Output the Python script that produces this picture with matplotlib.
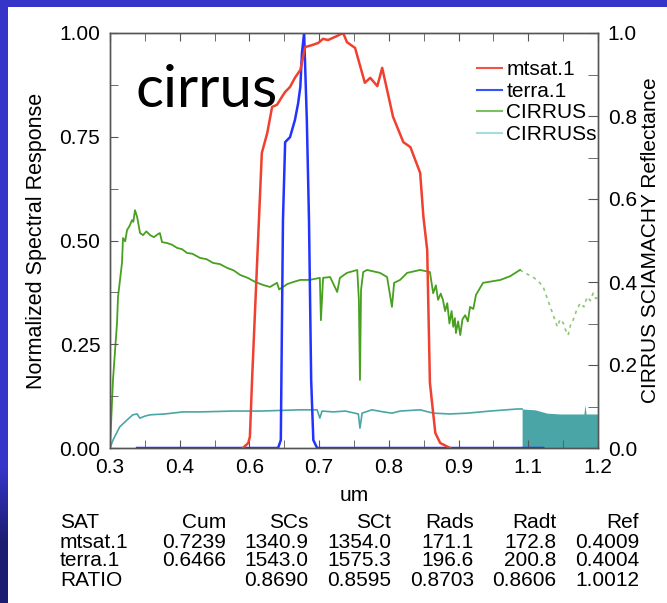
import numpy as np
import matplotlib
matplotlib.use("Agg")
import matplotlib.pyplot as plt
from matplotlib.patches import Rectangle
from matplotlib.lines import Line2D
from matplotlib.ticker import FuncFormatter

# mtsat.1 spectral response (left axis)
mtsat_x = [0.545, 0.555, 0.558, 0.562, 0.580, 0.590, 0.599, 0.608, 0.617, 0.623, 0.632,
           0.641, 0.651, 0.660, 0.673, 0.684, 0.693, 0.702, 0.719, 0.730, 0.737, 0.752,
           0.770, 0.780, 0.793, 0.802, 0.811, 0.822, 0.841, 0.854, 0.872, 0.878, 0.885,
           0.890, 0.900, 0.909, 0.927]
mtsat_y = [0.000, 0.012, 0.027, 0.164, 0.711, 0.759, 0.822, 0.827, 0.846, 0.858, 0.870,
           0.892, 0.911, 0.966, 0.971, 0.976, 0.986, 0.983, 0.993, 1.000, 0.978, 0.964,
           0.880, 0.892, 0.872, 0.916, 0.863, 0.798, 0.737, 0.725, 0.663, 0.557, 0.477,
           0.157, 0.036, 0.012, 0.000]

# terra.1 spectral response (left axis)
terra_x = [0.350, 0.610, 0.615, 0.619, 0.623, 0.632, 0.641, 0.647, 0.651, 0.654, 0.658,
           0.663, 0.667, 0.671, 0.675, 0.682, 1.099]
terra_y = [0.000, 0.000, 0.019, 0.549, 0.737, 0.749, 0.790, 0.831, 0.870, 0.952, 1.000,
           0.790, 0.549, 0.164, 0.019, 0.000, 0.000]

# CIRRUS reflectance (right axis)
cirrus_x = [0.300, 0.3055, 0.3129, 0.3148, 0.3221, 0.324, 0.328, 0.3314, 0.336, 0.3406,
            0.343, 0.3461, 0.350, 0.3554, 0.361, 0.367, 0.374, 0.381, 0.388, 0.392, 0.396,
            0.405, 0.414, 0.424, 0.433, 0.442, 0.452, 0.466, 0.478, 0.490, 0.503, 0.516,
            0.528, 0.540, 0.554, 0.568, 0.582, 0.595, 0.608, 0.612, 0.627, 0.638, 0.651,
            0.668, 0.687, 0.689, 0.693, 0.706, 0.719, 0.724, 0.737, 0.756, 0.759, 0.761,
            0.763, 0.767, 0.774, 0.798, 0.811, 0.820, 0.824, 0.835, 0.848, 0.872, 0.890,
            0.896, 0.901, 0.905, 0.910, 0.914, 0.918, 0.922, 0.926, 0.930, 0.933, 0.936,
            0.938, 0.942, 0.946, 0.950, 0.955, 0.960, 0.964, 0.970, 0.975, 0.988, 1.020,
            1.038, 1.056]
cirrus_y = [0.000, 0.164, 0.301, 0.364, 0.446, 0.506, 0.498, 0.525, 0.535, 0.549,
            0.545, 0.573, 0.557, 0.518, 0.513, 0.522, 0.513, 0.508, 0.515, 0.518, 0.496,
            0.494, 0.490, 0.482, 0.479, 0.470, 0.468, 0.458, 0.455, 0.446, 0.443, 0.434,
            0.428, 0.417, 0.410, 0.400, 0.393, 0.388, 0.398, 0.382, 0.395, 0.400, 0.405,
            0.405, 0.410, 0.308, 0.410, 0.412, 0.376, 0.410, 0.422, 0.429, 0.357, 0.164,
            0.381, 0.424, 0.429, 0.422, 0.412, 0.340, 0.398, 0.405, 0.422, 0.429, 0.424,
            0.373, 0.392, 0.357, 0.372, 0.357, 0.330, 0.349, 0.300, 0.330, 0.292, 0.313,
            0.277, 0.305, 0.272, 0.310, 0.320, 0.305, 0.340, 0.335, 0.369, 0.398, 0.405,
            0.414, 0.429]

# CIRRUS beyond 1.06 um (sparse samples)
cirrus_tail_x = [1.056, 1.068, 1.080, 1.090, 1.099, 1.106, 1.112, 1.118, 1.125, 1.130,
                 1.136, 1.140, 1.145, 1.150, 1.154, 1.160, 1.167, 1.174, 1.180, 1.186,
                 1.191, 1.196, 1.200]
cirrus_tail_y = [0.429, 0.420, 0.412, 0.402, 0.388, 0.362, 0.340, 0.318, 0.292, 0.310,
                 0.301, 0.285, 0.272, 0.300, 0.308, 0.330, 0.349, 0.340, 0.364, 0.355,
                 0.373, 0.360, 0.364]

# CIRRUSs reflectance (right axis)
cirruss_x = [0.300, 0.3055, 0.318, 0.331, 0.342, 0.350, 0.355, 0.365, 0.374, 0.401,
             0.435, 0.466, 0.527, 0.577, 0.651, 0.682, 0.687, 0.691, 0.711, 0.734,
             0.758, 0.761, 0.765, 0.783, 0.804, 0.820, 0.835, 0.872, 0.896, 0.927,
             0.959, 1.001, 1.051, 1.060]
cirruss_y = [0.000, 0.019, 0.051, 0.067, 0.080, 0.082, 0.072, 0.077, 0.080, 0.082,
             0.087, 0.087, 0.089, 0.089, 0.092, 0.092, 0.072, 0.089, 0.087, 0.089,
             0.082, 0.048, 0.084, 0.092, 0.087, 0.084, 0.089, 0.092, 0.084, 0.082,
             0.084, 0.089, 0.094, 0.094]
# CIRRUSs noisy region past 1.06 um (envelope top)
cirruss_fill_x = [1.060, 1.084, 1.106, 1.130, 1.174, 1.176, 1.178, 1.200]
cirruss_fill_y = [0.094, 0.092, 0.084, 0.082, 0.082, 0.104, 0.082, 0.082]

# summary table
table_cols = ["SAT", "Cum", "SCs", "SCt", "Rads", "Radt", "Ref"]
table_rows = [
    ["mtsat.1", "0.7239", "1340.9", "1354.0", "171.1", "172.8", "0.4009"],
    ["terra.1", "0.6466", "1543.0", "1575.3", "196.6", "200.8", "0.4004"],
    ["RATIO", "", "0.8690", "0.8595", "0.8703", "0.8606", "1.0012"],
]

RED = "#f0402f"
BLUE = "#2233ff"
GREEN = "#48a020"
TEAL = "#4aa6a6"
AXC = "#555555"
FS = 15

plt.rcParams["font.family"] = ["Liberation Sans", "DejaVu Sans"]

fig = plt.figure(figsize=(6.67, 6.03), dpi=100)
fig.patch.set_facecolor("white")

# blue slide frame: top bar and left strip that darkens toward the bottom
fig.patches.append(Rectangle((0, 1 - 7 / 603), 1, 7 / 603, transform=fig.transFigure,
                             facecolor="#3535c8", edgecolor="none", zorder=0))
strip = fig.add_axes([0, 0, 8 / 667, 1])
strip.axis("off")
shade = np.linspace(0, 1, 200).reshape(-1, 1)
strip.imshow(np.clip((shade - 0.1) / 0.12, 0, 1), aspect="auto", origin="lower",
             cmap=matplotlib.colors.LinearSegmentedColormap.from_list(
                 "frame", ["#1c1c70", "#3535c8"]), extent=(0, 1, 0, 1))

ax = fig.add_axes([110 / 667, 1 - 448 / 603, 488 / 667, 415 / 603])
ax2 = ax.twinx()
ax.set_zorder(ax2.get_zorder() + 1)
ax.patch.set_visible(False)

ax2.plot(cirrus_x, cirrus_y, color=GREEN, lw=1.3)
ax2.plot(cirrus_tail_x, cirrus_tail_y, color=GREEN, lw=1.2, alpha=0.6,
         linestyle=(0, (2, 2.5)))
ax2.plot(cirruss_x, cirruss_y, color=TEAL, lw=1.2)
ax2.fill_between(cirruss_fill_x, 0, cirruss_fill_y, color=TEAL, lw=0)

ax.plot(terra_x, terra_y, color=BLUE, lw=1.8)
ax.plot(mtsat_x, mtsat_y, color=RED, lw=1.8)

ax.set_xlim(0.3, 1.2)
ax.set_ylim(0, 1)
ax2.set_ylim(0, 1)

ax.set_xticks(np.linspace(0.3, 1.2, 8))
ax.set_xticks(np.linspace(0.3, 1.2, 15), minor=True)
ax.xaxis.set_major_formatter(FuncFormatter(lambda v, p: "%.1f" % v))
ax.set_yticks([0, 0.25, 0.5, 0.75, 1.0])
ax.set_yticks([0.125, 0.375, 0.625, 0.875], minor=True)
ax.yaxis.set_major_formatter(FuncFormatter(lambda v, p: "%.2f" % v))
ax2.set_yticks([0, 0.2, 0.4, 0.6, 0.8, 1.0])
ax2.set_yticks([0.1, 0.3, 0.5, 0.7, 0.9], minor=True)
ax2.yaxis.set_major_formatter(FuncFormatter(lambda v, p: "%.1f" % v))

for a in (ax, ax2):
    for s in a.spines.values():
        s.set_color(AXC)
        s.set_linewidth(1.0)

ax.tick_params(axis="x", which="both", direction="in", top=True, length=6,
               color=AXC, labelsize=FS, pad=7)
ax.tick_params(axis="y", which="both", direction="in", right=False, length=6,
               color=AXC, labelsize=FS, pad=7)
ax2.tick_params(axis="y", which="both", direction="in", length=7, color=AXC,
                labelsize=FS, pad=7)

ax.set_xlabel("um", fontsize=FS, labelpad=7)
ax.set_ylabel("Normalized Spectral Response", fontsize=15.5, labelpad=9)
ax2.set_ylabel("CIRRUS SCIAMACHY Reflectance", fontsize=FS, labelpad=3)

handles = [Line2D([], [], color="#f05545", lw=1.5),
           Line2D([], [], color="#3355ff", lw=1.5),
           Line2D([], [], color="#7cc060", lw=1.5),
           Line2D([], [], color="#a8dcdc", lw=1.5)]
ax.legend(handles, ["mtsat.1", "terra.1", "CIRRUS", "CIRRUSs"], loc="upper left",
          bbox_to_anchor=(0.752, 0.934), frameon=False, fontsize=FS,
          handlelength=1.2, handletextpad=0.2, labelspacing=0.12, borderaxespad=0,
          borderpad=0)

fig.text(135 / 667, 1 - 107 / 603, "cirrus", family="Lato", fontsize=42,
         va="baseline", ha="left")

# summary table under the plot
col_x = [60, 226, 308.6, 391, 474, 556.5, 639]
row_y = [523, 542, 561, 580]
for j, name in enumerate(table_cols):
    ha = "left" if j == 0 else "right"
    fig.text(col_x[j] / 667, 1 - row_y[0] / 603, name, ha=ha, va="center", fontsize=FS)
for i, row in enumerate(table_rows):
    for j, cell in enumerate(row):
        ha = "left" if j == 0 else "right"
        fig.text(col_x[j] / 667, 1 - row_y[i + 1] / 603, cell, ha=ha, va="center",
                 fontsize=FS)

fig.savefig("out.png", dpi=100)
